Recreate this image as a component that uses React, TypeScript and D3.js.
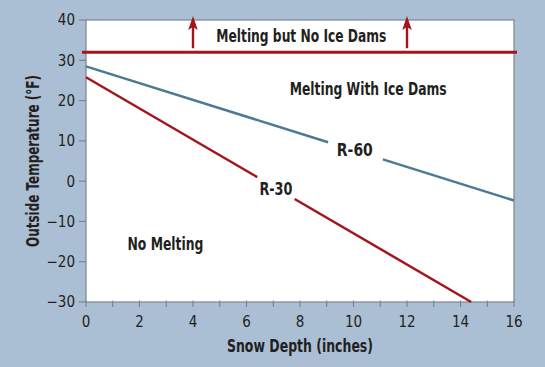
import React from "react";
import * as d3 from "d3";

const W = 545;
const H = 367;

const xTicks = [0, 1, 2, 3, 4, 5, 6, 7, 8, 9, 10, 11, 12, 13, 14, 15, 16];
const xLabels = [0, 2, 4, 6, 8, 10, 12, 14, 16];
const yTicks = [-30, -20, -10, 0, 10, 20, 30, 40];

const freezeTemp = 32;
const arrowDepths = [4, 12];

const r60Depth = [0, 16];
const r60Temp = [28.5, -4.8];
const r30Depth = [0, 14.4];
const r30Temp = [25.8, -30];

const BG = "#aabed4";
const RED = "#a3161c";
const BLUE = "#4b7a94";
const TEXT = "#231f20";
const AXIS = "#7d8590";
const FONT = "'DejaVu Sans Condensed', 'Liberation Sans Narrow', Arial, sans-serif";

function Label(props: { x: number; y: number; w: number; text: string; anchor?: string; size?: number; transform?: string }) {
  return (
    <text
      x={props.x}
      y={props.y}
      transform={props.transform}
      textAnchor={props.anchor || "middle"}
      fontFamily={FONT}
      fontWeight="bold"
      fontSize={props.size || 18}
      fill={TEXT}
      textLength={props.w}
      lengthAdjust="spacingAndGlyphs"
    >
      {props.text}
    </text>
  );
}

export default function App() {
  const x = d3.scaleLinear().domain([0, 16]).range([86, 514]);
  const y = d3.scaleLinear().domain([-30, 40]).range([302, 20]);
  const line = d3
    .line<[number, number]>()
    .x((d) => x(d[0]))
    .y((d) => y(d[1]));

  const r60 = r60Depth.map((d, i) => [d, r60Temp[i]] as [number, number]);
  const r30 = r30Depth.map((d, i) => [d, r30Temp[i]] as [number, number]);

  const r60At = (d: number) => r60Temp[0] + ((r60Temp[1] - r60Temp[0]) * (d - r60Depth[0])) / (r60Depth[1] - r60Depth[0]);
  const r30At = (d: number) => r30Temp[0] + ((r30Temp[1] - r30Temp[0]) * (d - r30Depth[0])) / (r30Depth[1] - r30Depth[0]);

  return (
    <div style={{ position: "fixed", left: 0, top: 0 }}>
      <svg width={W} height={H} style={{ display: "block" }}>
        <rect x={0} y={0} width={W} height={H} fill={BG} />
        <rect x={x(0)} y={y(40)} width={x(16) - x(0)} height={y(-30) - y(40)} fill="#ffffff" stroke={AXIS} strokeWidth={1.2} />

        {yTicks.map((t) => (
          <g key={"y" + t}>
            <line x1={x(0) - 7} x2={x(0)} y1={y(t)} y2={y(t)} stroke={AXIS} strokeWidth={1.2} />
            <text x={x(0) - 11} y={y(t)} dy="0.36em" textAnchor="end" fontFamily={FONT} fontSize={15} fill={TEXT}>
              {t < 0 ? "\u2212" + Math.abs(t) : t}
            </text>
          </g>
        ))}
        {xTicks.map((t) => (
          <line key={"x" + t} x1={x(t)} x2={x(t)} y1={y(-30) - 1.5} y2={y(-30) + 5} stroke={AXIS} strokeWidth={1.2} />
        ))}
        {xLabels.map((t) => (
          <text key={"xl" + t} x={x(t)} y={y(-30) + 25} textAnchor="middle" fontFamily={FONT} fontSize={15} fill={TEXT}>
            {t}
          </text>
        ))}

        <path d={line([r60[0], [9.05, r60At(9.05)]]) || ""} fill="none" stroke={BLUE} strokeWidth={2.5} />
        <path d={line([[11.1, r60At(11.1)], r60[1]]) || ""} fill="none" stroke={BLUE} strokeWidth={2.5} />
        <path d={line([r30[0], [6.4, r30At(6.4)]]) || ""} fill="none" stroke={RED} strokeWidth={2.5} />
        <path d={line([[7.8, r30At(7.8)], r30[1]]) || ""} fill="none" stroke={RED} strokeWidth={2.5} />

        <line x1={x(0) - 4} x2={x(16) + 3} y1={y(freezeTemp)} y2={y(freezeTemp)} stroke={RED} strokeWidth={3} />

        {arrowDepths.map((d) => (
          <g key={"a" + d}>
            <line x1={x(d)} x2={x(d)} y1={y(freezeTemp) - 4} y2={y(40) + 6} stroke={RED} strokeWidth={2.4} />
            <path
              d={`M${x(d)},${y(40) - 4} L${x(d) - 4.8},${y(40) + 10} L${x(d)},${y(40) + 7} L${x(d) + 4.8},${y(40) + 10} Z`}
              fill={RED}
            />
          </g>
        ))}

        <Label x={x(8.05)} y={y(34.6)} w={170} text="Melting but No Ice Dams" />
        <Label x={x(10.55)} y={y(21.3)} w={157} text="Melting With Ice Dams" />
        <Label x={x(10.05)} y={y(6.3)} w={36} text="R-60" />
        <Label x={x(7.1)} y={y(-3.5)} w={33} text="R-30" />
        <Label x={x(1.55)} y={y(-17.1)} w={76} text="No Melting" anchor="start" />

        <Label x={x(8)} y={352} w={146} text="Snow Depth (inches)" />
        <Label x={0} y={0} w={172} text="Outside Temperature (°F)" transform={`translate(39, 161) rotate(-90)`} />
      </svg>
    </div>
  );
}
